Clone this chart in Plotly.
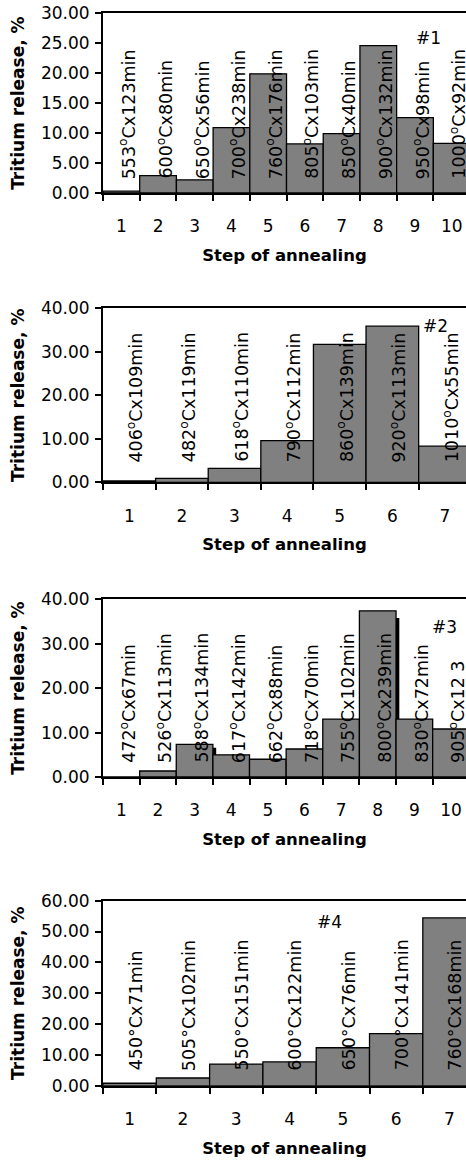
import plotly.graph_objects as go

# ---------------- data ----------------
steps1 = [1, 2, 3, 4, 5, 6, 7, 8, 9, 10]
release1 = [0.3, 2.9, 2.2, 10.9, 19.9, 8.2, 9.9, 24.6, 12.6, 8.3]
labels1 = ["553<sup>o</sup>Cx123min", "600<sup>o</sup>Cx80min", "650<sup>o</sup>Cx56min",
           "700<sup>o</sup>Cx238min", "760<sup>o</sup>Cx176min", "805<sup>o</sup>Cx103min",
           "850<sup>o</sup>Cx40min", "900<sup>o</sup>Cx132min", "950<sup>o</sup>Cx98min",
           "1000<sup>o</sup>Cx92min"]

steps2 = [1, 2, 3, 4, 5, 6, 7]
release2 = [0.3, 0.9, 3.2, 9.6, 31.7, 35.9, 8.3]
labels2 = ["406<sup>o</sup>Cx109min", "482<sup>o</sup>Cx119min", "618<sup>o</sup>Cx110min",
           "790<sup>o</sup>Cx112min", "860<sup>o</sup>Cx139min", "920<sup>o</sup>Cx113min",
           "1010<sup>o</sup>Cx55min"]

steps3 = [1, 2, 3, 4, 5, 6, 7, 8, 9, 10]
release3 = [0.0, 1.35, 7.35, 5.0, 4.0, 6.3, 13.05, 37.4, 13.05, 10.8]
shadow3 = [0, 0, 6.6, 0, 0, 0, 0, 35.8, 0, 0]
labels3 = ["472<sup>o</sup>Cx67min", "526<sup>o</sup>Cx113min", "588<sup>o</sup>Cx134min",
           "617<sup>o</sup>Cx142min", "662<sup>o</sup>Cx88min", "718<sup>o</sup>Cx70min",
           "755<sup>o</sup>Cx102min", "800<sup>o</sup>Cx239min", "830<sup>o</sup>Cx72min",
           "905<sup>o</sup>Cx12 3"]

steps4 = [1, 2, 3, 4, 5, 6, 7]
release4 = [0.8, 2.5, 7.0, 7.7, 12.3, 16.9, 54.4]
labels4 = ["450°Cx71min", "505°Cx102min", "550°Cx151min", "600°Cx122min",
           "650°Cx76min", "700°Cx141min", "760°Cx168min"]

sample_tags = ["#1", "#2", "#3", "#4"]
y_max = [30, 40, 40, 60]
y_dtick = [5, 10, 10, 10]

# ---------------- style ----------------
FONT = "DejaVu Sans"
BAR_COLOR = "#808080"
W, H = 466, 1160
ML = 103

panels = [
    dict(steps=steps1, vals=release1, labels=labels1, dom=(13.3, 193.0), xr=10.39,
         tag_xy=(428, 38), lab_shift=12),
    dict(steps=steps2, vals=release2, labels=labels2, dom=(308.3, 482.3), xr=7.40,
         tag_xy=(435, 326), lab_shift=18),
    dict(steps=steps3, vals=release3, labels=labels3, dom=(599.3, 777.0), xr=10.41,
         tag_xy=(444, 627), lab_shift=12),
    dict(steps=steps4, vals=release4, labels=labels4, dom=(900.7, 1085.7), xr=7.31,
         tag_xy=(329, 922), lab_shift=13),
]

fig = go.Figure()
layout = dict(
    width=W, height=H,
    margin=dict(l=ML, r=0, t=0, b=0),
    paper_bgcolor="white", plot_bgcolor="white",
    showlegend=False, barmode="overlay",
    font=dict(family=FONT, color="black"),
    annotations=[],
)

for i, p in enumerate(panels):
    n = i + 1
    xa = "x" if n == 1 else f"x{n}"
    ya = "y" if n == 1 else f"y{n}"
    xkey = "xaxis" if n == 1 else f"xaxis{n}"
    ykey = "yaxis" if n == 1 else f"yaxis{n}"

    if n == 3:
        fig.add_trace(go.Bar(
            x=p["steps"], y=shadow3, width=1, offset=-0.41,
            marker=dict(color="black", line=dict(width=0)),
            xaxis=xa, yaxis=ya, hoverinfo="skip"))

    fig.add_trace(go.Bar(
        x=p["steps"], y=p["vals"], width=1,
        marker=dict(color=BAR_COLOR, line=dict(color="black", width=1.3)),
        xaxis=xa, yaxis=ya))

    top, bot = p["dom"]
    nsteps = len(p["steps"])
    layout[xkey] = dict(
        domain=[0, 1], anchor=ya, range=[0.5, p["xr"]],
        tickmode="array", tickvals=p["steps"], ticktext=[str(s) for s in p["steps"]],
        ticks="", ticklabelstandoff=17,
        tickfont=dict(family=FONT, size=17),
        minor=dict(tickmode="array", tickvals=[s - 0.5 for s in p["steps"]] + [nsteps + 0.5],
                   ticks="outside", ticklen=6, tickwidth=1.5, tickcolor="black"),
        showline=True, linecolor="black", linewidth=2, mirror=True,
        showgrid=False, zeroline=False,
        title=dict(text="<b>Step of annealing</b>", font=dict(family=FONT, size=16.5),
                   standoff=14),
        automargin=False,
    )
    layout[ykey] = dict(
        domain=[1 - bot / H, 1 - top / H], anchor=xa,
        range=[0, y_max[i]], dtick=y_dtick[i], tickformat=".2f",
        ticks="outside", ticklen=6, tickwidth=1.5, tickcolor="black",
        ticklabelstandoff=2,
        tickfont=dict(family=FONT, size=17),
        showline=True, linecolor="black", linewidth=2,
        showgrid=False, zeroline=False,
        title=dict(text="<b>Tritium release, %</b>", font=dict(family=FONT, size=17),
                   standoff=12),
        automargin=False,
    )

    for s, lab in zip(p["steps"], p["labels"]):
        layout["annotations"].append(dict(
            x=s, y=0, xref=xa, yref=ya, text=lab, textangle=-90,
            showarrow=False, xanchor="center", yanchor="bottom",
            xshift=6, yshift=p["lab_shift"],
            font=dict(family=FONT, size=17.5, color="black")))

    tx, ty = p["tag_xy"]
    layout["annotations"].append(dict(
        x=(tx - ML) / (W - ML), y=1 - ty / H, xref="paper", yref="paper",
        text=sample_tags[i], showarrow=False, xanchor="center", yanchor="middle",
        font=dict(family=FONT, size=17, color="black")))

fig.update_layout(**layout)
fig.write_html("out.html")
